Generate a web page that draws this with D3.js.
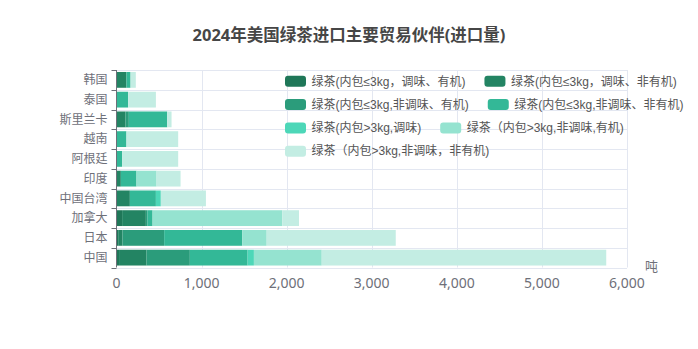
<!DOCTYPE html>
<html>
<head>
<meta charset="utf-8">
<script src="https://cdn.jsdelivr.net/npm/d3@7"></script>
<style>
  html, body { margin: 0; padding: 0; background: #fff; }
  svg { display: block; font-family: "Noto Sans", "Noto Sans CJK SC", sans-serif; }
  .legend text { font-family: "Liberation Sans", "Noto Sans CJK SC", sans-serif; }
</style>
</head>
<body>
<svg id="chart" width="698" height="349"></svg>
<script>
// Trading partners, top to bottom
const categories = ["韩国", "泰国", "斯里兰卡", "越南", "阿根廷", "印度", "中国台湾", "加拿大", "日本", "中国"];

const seriesNames = [
  "绿茶(内包≤3kg，调味、有机)",
  "绿茶(内包≤3kg，调味、非有机)",
  "绿茶(内包≤3kg,非调味、有机)",
  "绿茶(内包≤3kg,非调味、非有机)",
  "绿茶(内包>3kg,调味)",
  "绿茶（内包>3kg,非调味,有机)",
  "绿茶（内包>3kg,非调味，非有机)"
];

// Import volume (tonnes), one array per product class, in category order
const flavOrganicSmall     = [0, 0, 0, 0, 0, 0, 0, 66, 20, 30];
const flavNonOrganicSmall  = [117, 0, 106, 0, 0, 51, 157, 279, 50, 323];
const plainOrganicSmall    = [0, 0, 39, 0, 0, 0, 0, 20, 490, 509];
const plainNonOrganicSmall = [48, 137, 451, 117, 66, 184, 306, 59, 918, 679];
const flavLarge            = [0, 0, 0, 0, 0, 0, 58, 0, 0, 74];
const plainOrganicLarge    = [0, 0, 0, 0, 0, 236, 0, 1525, 287, 797];
const plainNonOrganicLarge = [62, 326, 51, 608, 659, 282, 530, 196, 1517, 3344];

const seriesValues = [
  flavOrganicSmall, flavNonOrganicSmall, plainOrganicSmall, plainNonOrganicSmall,
  flavLarge, plainOrganicLarge, plainNonOrganicLarge
];

const xTicks = [0, 1000, 2000, 3000, 4000, 5000, 6000];
const colors = ["#1f7758", "#238463", "#2b9c7b", "#33b897", "#4dd7b8", "#95e3d0", "#c3ede3"];

const svg = d3.select("#chart");
const margin = { left: 116.5, right: 71, top: 70, bottom: 81.5 };
const W = 698, H = 349;
const plotW = W - margin.left - margin.right;
const plotH = H - margin.top - margin.bottom;

const x = d3.scaleLinear().domain([0, 6000]).range([margin.left, margin.left + plotW]);
const y = d3.scaleBand().domain(categories).range([margin.top, margin.top + plotH])
  .paddingInner(0.2).paddingOuter(0.1);
const band = d3.scaleBand().domain(categories).range([margin.top, margin.top + plotH]);

// Title
svg.append("text")
  .attr("x", W / 2).attr("y", 41)
  .attr("text-anchor", "middle")
  .attr("font-size", 16.5).attr("font-weight", "bold")
  .attr("fill", "#464646")
  .text("2024年美国绿茶进口主要贸易伙伴(进口量)");

// Grid: vertical lines at ticks, horizontal lines at band edges
const grid = svg.append("g").attr("stroke", "#e3e7f1").attr("stroke-width", 1);
xTicks.forEach(t => {
  if (t === 0) return;
  grid.append("line").attr("x1", Math.round(x(t)) + 0.5).attr("x2", Math.round(x(t)) + 0.5)
    .attr("y1", margin.top).attr("y2", margin.top + plotH);
});
const edges = categories.map(c => band(c)).concat([margin.top + plotH]);
edges.forEach(e => {
  grid.append("line").attr("x1", margin.left).attr("x2", margin.left + plotW)
    .attr("y1", Math.round(e) + 0.5).attr("y2", Math.round(e) + 0.5);
});

// Stacked bars
const rows = categories.map((c, i) => {
  const r = { cat: c };
  seriesNames.forEach((s, k) => { r[s] = seriesValues[k][i]; });
  return r;
});
const stacked = d3.stack().keys(seriesNames)(rows);

svg.append("g").selectAll("g").data(stacked).join("g")
  .attr("fill", (d, k) => colors[k])
  .selectAll("rect").data(d => d).join("rect")
  .attr("x", d => x(d[0]))
  .attr("y", d => y(d.data.cat))
  .attr("width", d => Math.max(0, x(d[1]) - x(d[0])))
  .attr("height", y.bandwidth());

// Y axis: line, ticks at band edges, labels
const yAxis = svg.append("g");
yAxis.append("line")
  .attr("x1", margin.left).attr("x2", margin.left)
  .attr("y1", margin.top).attr("y2", margin.top + plotH)
  .attr("stroke", "#6e7079");
edges.forEach(e => {
  yAxis.append("line")
    .attr("x1", margin.left - 5).attr("x2", margin.left)
    .attr("y1", Math.round(e) + 0.5).attr("y2", Math.round(e) + 0.5)
    .attr("stroke", "#6e7079");
});
yAxis.selectAll("text.cat").data(categories).join("text")
  .attr("class", "cat")
  .attr("x", margin.left - 9)
  .attr("y", c => band(c) + band.bandwidth() / 2)
  .attr("dy", "0.35em")
  .attr("text-anchor", "end")
  .attr("font-size", 12)
  .attr("fill", "#6e7079")
  .text(c => c);

// X axis labels
const fmt = d3.format(",");
svg.append("g").selectAll("text").data(xTicks).join("text")
  .attr("x", d => x(d))
  .attr("y", margin.top + plotH + 15.5)
  .attr("dy", "0.35em")
  .attr("text-anchor", "middle")
  .attr("font-size", 14)
  .attr("fill", "#6e7079")
  .text(d => fmt(d));

// Unit label
svg.append("text")
  .attr("x", 645).attr("y", 266)
  .attr("dy", "0.35em")
  .attr("font-size", 13)
  .attr("fill", "#6e7079")
  .text("吨");

// Legend with flowing rows
const legend = svg.append("g").attr("class", "legend");
const lgLeft = 285, lgRight = 695, rowH = 23.3, lgTop = 81.3, gap = 19;
let cx = lgLeft, cy = lgTop;
seriesNames.forEach((name, k) => {
  const item = legend.append("g");
  item.append("rect")
    .attr("x", 0).attr("y", -5.5)
    .attr("width", 21).attr("height", 11)
    .attr("rx", 3).attr("ry", 3)
    .attr("fill", colors[k]);
  const t = item.append("text")
    .attr("x", 26.5).attr("y", 0)
    .attr("dy", "0.35em")
    .attr("font-size", 12)
    .attr("fill", "#555")
    .text(name);
  const w = 26.5 + t.node().getComputedTextLength();
  if (cx > lgLeft && cx + w > lgRight) { cx = lgLeft; cy += rowH; }
  item.attr("transform", `translate(${cx},${cy})`);
  cx += w + gap;
});
</script>
</body>
</html>
